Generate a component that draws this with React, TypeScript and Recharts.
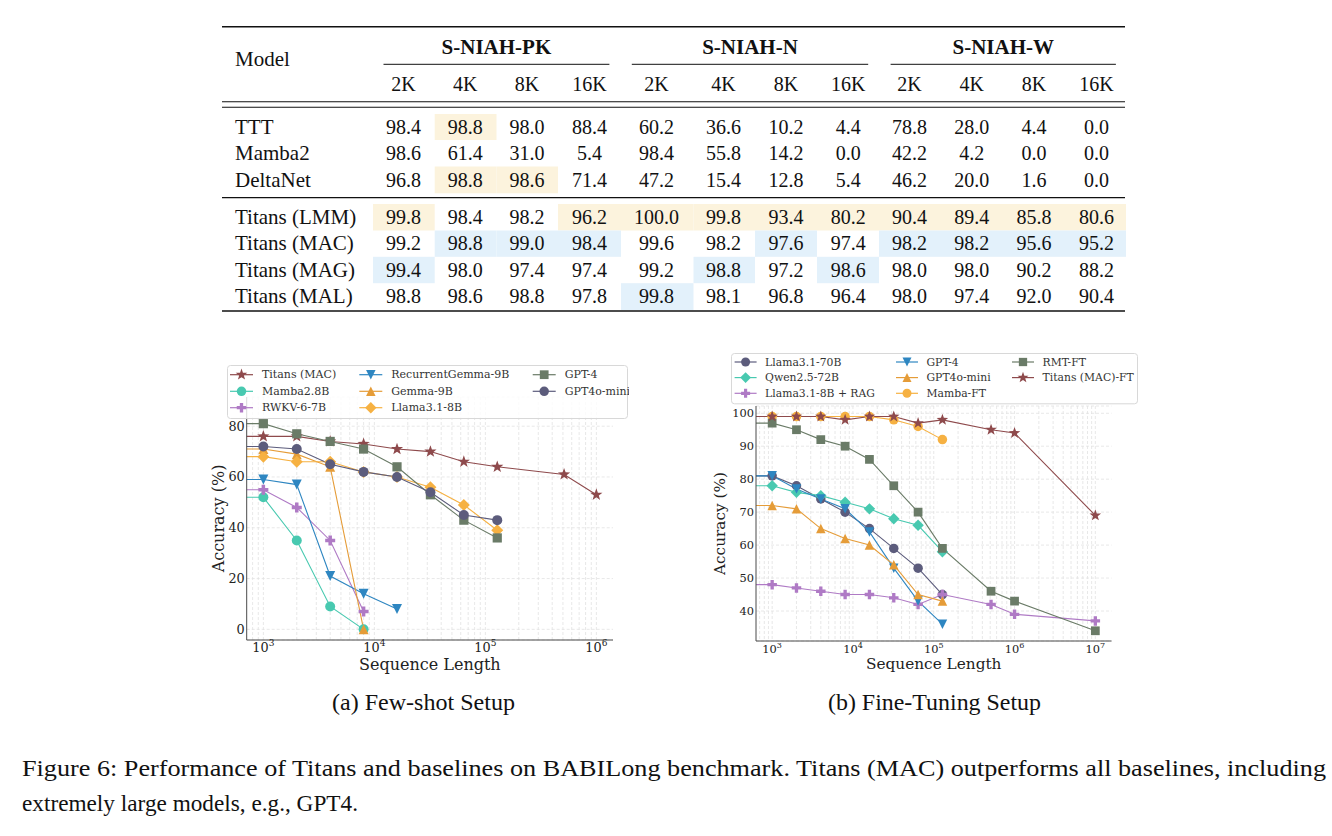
import React from "react";
import { LineChart, Line, XAxis, YAxis, CartesianGrid, Label } from "recharts";

const SERIF = "DejaVu Serif, Liberation Serif, serif";
const BOOK = "Liberation Serif, Times New Roman, serif";

// ---------- table data ----------
const taskNames = ["S-NIAH-PK", "S-NIAH-N", "S-NIAH-W"];
const contextLengths = ["2K", "4K", "8K", "16K"];
const tableModels = ["TTT", "Mamba2", "DeltaNet", "Titans (LMM)", "Titans (MAC)", "Titans (MAG)", "Titans (MAL)"];
const tttRow = [98.4, 98.8, 98.0, 88.4, 60.2, 36.6, 10.2, 4.4, 78.8, 28.0, 4.4, 0.0];
const mamba2Row = [98.6, 61.4, 31.0, 5.4, 98.4, 55.8, 14.2, 0.0, 42.2, 4.2, 0.0, 0.0];
const deltaNetRow = [96.8, 98.8, 98.6, 71.4, 47.2, 15.4, 12.8, 5.4, 46.2, 20.0, 1.6, 0.0];
const lmmRow = [99.8, 98.4, 98.2, 96.2, 100.0, 99.8, 93.4, 80.2, 90.4, 89.4, 85.8, 80.6];
const macRow = [99.2, 98.8, 99.0, 98.4, 99.6, 98.2, 97.6, 97.4, 98.2, 98.2, 95.6, 95.2];
const magRow = [99.4, 98.0, 97.4, 97.4, 99.2, 98.8, 97.2, 98.6, 98.0, 98.0, 90.2, 88.2];
const malRow = [98.8, 98.6, 98.8, 97.8, 99.8, 98.1, 96.8, 96.4, 98.0, 97.4, 92.0, 90.4];
const tableRows = [tttRow, mamba2Row, deltaNetRow, lmmRow, macRow, magRow, malRow];

// [row, column] of shaded cells
const yellowCells = [[0, 1], [2, 1], [2, 2], [3, 0], [3, 3], [3, 4], [3, 5], [3, 6], [3, 7], [3, 8], [3, 9], [3, 10], [3, 11]];
const blueCells = [[4, 1], [4, 2], [4, 3], [4, 6], [4, 8], [4, 9], [4, 10], [4, 11], [5, 0], [5, 5], [5, 7], [6, 4]];

// ---------- chart data ----------
const fewShotLengths = [1000, 2000, 4000, 8000, 16000, 32000, 64000, 128000, 512000, 1000000];
const titansMacFS = [76, 76, 74, 73, 71, 70, 66, 64, 61, 53];
const mamba28FS = [52, 35, 9, 0];
const rwkvFS = [55, 48, 35, 7];
const recGemmaFS = [59, 57, 21, 14, 8];
const gemmaFS = [71, 69, 64, 0];
const llama8FS = [68, 66, 66, 62, 60, 56, 49, 39];
const gpt4FS = [81, 77, 74, 71, 64, 53, 43, 36];
const gpt4oMiniFS = [72, 71, 65, 62, 60, 54, 45, 43];

const fineTuneLengths = [1000, 2000, 4000, 8000, 16000, 32000, 64000, 128000, 512000, 1000000, 10000000];
const llama70FT = [81, 78, 74, 70, 65, 59, 53, 45];
const qwenFT = [78, 76, 75, 73, 71, 68, 66, 58];
const ragFT = [48, 47, 46, 45, 45, 44, 42, 45, 42, 39, 37];
const gpt4FT = [81, 77, 74, 71, 64, 53, 43, 36];
const gpt4oMiniFT = [72, 71, 65, 62, 60, 54, 45, 43];
const mambaFT = [99, 99, 99, 99, 99, 98, 96, 92];
const rmtFT = [97, 95, 92, 90, 86, 78, 70, 59, 46, 43, 34];
const titansFT = [99, 99, 99, 98, 99, 99, 97, 98, 95, 94, 69];

type Shape = "star" | "circle" | "plus" | "triDown" | "triUp" | "diamond" | "square";
type Series = { name: string; color: string; shape: Shape; ys: number[] };

const fewShotSeries: Series[] = [
  { name: "Titans (MAC)", color: "#8e4a4c", shape: "star", ys: titansMacFS },
  { name: "Mamba2.8B", color: "#48c9b0", shape: "circle", ys: mamba28FS },
  { name: "RWKV-6-7B", color: "#af7ac5", shape: "plus", ys: rwkvFS },
  { name: "RecurrentGemma-9B", color: "#2e86c1", shape: "triDown", ys: recGemmaFS },
  { name: "Gemma-9B", color: "#e59c38", shape: "triUp", ys: gemmaFS },
  { name: "Llama3.1-8B", color: "#f6b142", shape: "diamond", ys: llama8FS },
  { name: "GPT-4", color: "#6a7b67", shape: "square", ys: gpt4FS },
  { name: "GPT4o-mini", color: "#5c5c7c", shape: "circle", ys: gpt4oMiniFS },
];

const fineTuneSeries: Series[] = [
  { name: "Llama3.1-70B", color: "#5c5c7c", shape: "circle", ys: llama70FT },
  { name: "Qwen2.5-72B", color: "#48c9b0", shape: "diamond", ys: qwenFT },
  { name: "Llama3.1-8B + RAG", color: "#af7ac5", shape: "plus", ys: ragFT },
  { name: "GPT-4", color: "#2e86c1", shape: "triDown", ys: gpt4FT },
  { name: "GPT4o-mini", color: "#e59c38", shape: "triUp", ys: gpt4oMiniFT },
  { name: "Mamba-FT", color: "#f6b142", shape: "circle", ys: mambaFT },
  { name: "RMT-FT", color: "#6a7b67", shape: "square", ys: rmtFT },
  { name: "Titans (MAC)-FT", color: "#8e4a4c", shape: "star", ys: titansFT },
];

// log-scale grid values (2..9 x 10^k)
function logGrid(lo: number, hi: number) {
  const out: number[] = [];
  for (let e = Math.floor(Math.log10(lo)); e <= Math.ceil(Math.log10(hi)); e++) {
    for (let m = 1; m <= 9; m++) {
      const v = m * Math.pow(10, e);
      if (v > lo && v < hi) out.push(v);
    }
  }
  return out;
}

function Marker({ shape, cx, cy, color, k }: { shape: Shape; cx: number; cy: number; color: string; k: number }) {
  const pts = (arr: number[][]) => arr.map(([dx, dy]) => `${cx + dx * k},${cy + dy * k}`).join(" ");
  switch (shape) {
    case "circle":
      return <circle cx={cx} cy={cy} r={5 * k} fill={color} />;
    case "square":
      return <rect x={cx - 4.6 * k} y={cy - 4.6 * k} width={9.2 * k} height={9.2 * k} fill={color} />;
    case "diamond":
      return <polygon points={pts([[0, -6], [6, 0], [0, 6], [-6, 0]])} fill={color} />;
    case "triUp":
      return <polygon points={pts([[0, -5], [5, 5], [-5, 5]])} fill={color} />;
    case "triDown":
      return <polygon points={pts([[0, 5], [5, -5], [-5, -5]])} fill={color} />;
    case "plus": {
      const a = 1.75, b = 5;
      return (
        <polygon
          points={pts([[-a, -b], [a, -b], [a, -a], [b, -a], [b, a], [a, a], [a, b], [-a, b], [-a, a], [-b, a], [-b, -a], [-a, -a]])}
          fill={color}
        />
      );
    }
    case "star": {
      const arr: number[][] = [];
      for (let i = 0; i < 10; i++) {
        const r = i % 2 === 0 ? 6.4 : 2.6;
        const ang = -Math.PI / 2 + (i * Math.PI) / 5;
        arr.push([r * Math.cos(ang), r * Math.sin(ang)]);
      }
      return <polygon points={pts(arr)} fill={color} />;
    }
  }
  return null;
}

// the plotted lines start at the left frame edge (x clipped), like the original
function toPoints(xs: number[], ys: number[]) {
  return [{ x: 1, y: ys[0], edge: true }, ...ys.map((y, i) => ({ x: xs[i], y, edge: false }))];
}

type ChartProps = {
  series: Series[];
  lengths: number[];
  width: number;
  height: number;
  margin: { top: number; right: number; bottom: number; left: number };
  yAxisWidth: number;
  xDomain: [number, number];
  yDomain: [number, number];
  xTicks: number[];
  yTicks: number[];
  tickFont: number;
  supFont: number;
  baseDy: number;
  supDy: number;
  titleFont: number;
  xTitleDy: number;
  yTitleX: number;
  k: number;
};

function PerfChart(p: ChartProps) {
  const plotLeft = p.margin.left + p.yAxisWidth;
  const plotRight = p.width - p.margin.right;
  const plotTop = p.margin.top;
  const plotBottom = p.height - p.margin.bottom - 30;
  const txt = { fontFamily: SERIF };
  return (
    <LineChart width={p.width} height={p.height} margin={p.margin}>
      <CartesianGrid
        stroke="#e2e2e2"
        strokeDasharray="3 2"
        strokeWidth={0.8}
        verticalValues={logGrid(p.xDomain[0], p.xDomain[1])}
      />
      <XAxis
        type="number"
        dataKey="x"
        scale="log"
        domain={p.xDomain}
        allowDataOverflow
        ticks={p.xTicks}
        interval={0}
        height={30}
        tickLine={false}
        tickSize={0}
        tickMargin={0}
        axisLine={{ stroke: "#4a4a4a", strokeWidth: 1 }}
        tick={(t: any) => (
          <text x={t.x} y={t.y + p.baseDy} textAnchor="middle" style={txt} fontSize={p.tickFont} fill="#222">
            <tspan>10</tspan>
            <tspan dy={p.supDy} fontSize={p.supFont}>
              {Math.round(Math.log10(t.payload.value))}
            </tspan>
          </text>
        )}
      >
        <Label
          content={() => (
            <text
              x={(plotLeft + plotRight) / 2}
              y={plotBottom + p.xTitleDy}
              textAnchor="middle"
              dominantBaseline="central"
              style={txt}
              fontSize={p.titleFont}
              fill="#222"
            >
              Sequence Length
            </text>
          )}
        />
      </XAxis>
      <YAxis
        type="number"
        dataKey="y"
        domain={p.yDomain}
        allowDataOverflow
        ticks={p.yTicks}
        interval={0}
        width={p.yAxisWidth}
        tickLine={false}
        tickSize={0}
        tickMargin={2}
        axisLine={{ stroke: "#4a4a4a", strokeWidth: 1 }}
        tick={(t: any) => (
          <text x={t.x} y={t.y} textAnchor="end" dominantBaseline="central" style={txt} fontSize={p.tickFont} fill="#222">
            {t.payload.value}
          </text>
        )}
      >
        <Label
          content={() => {
            const cy = (plotTop + plotBottom) / 2;
            return (
              <text
                x={p.yTitleX}
                y={cy}
                transform={`rotate(-90, ${p.yTitleX}, ${cy})`}
                textAnchor="middle"
                dominantBaseline="central"
                style={txt}
                fontSize={p.titleFont}
                fill="#222"
              >
                Accuracy (%)
              </text>
            );
          }}
        />
      </YAxis>
      {p.series.map((s) => (
        <Line
          key={s.name}
          name={s.name}
          data={toPoints(p.lengths, s.ys)}
          dataKey="y"
          stroke={s.color}
          strokeWidth={1.1}
          isAnimationActive={false}
          activeDot={false}
          dot={(d: any) =>
            d.payload?.edge || d.cx == null ? (
              <g key={`e-${d.index}`} />
            ) : (
              <Marker key={`m-${d.index}`} shape={s.shape} cx={d.cx} cy={d.cy} color={s.color} k={p.k} />
            )
          }
        />
      ))}
    </LineChart>
  );
}

function LegendBox(props: {
  series: Series[];
  left: number;
  top: number;
  width: number;
  height: number;
  rowY: number[];
  colX: number[];
  handleLen: number;
  textGap: number;
  fontSize: number;
  k: number;
}) {
  const { series, left, top, width, height, rowY, colX, handleLen, textGap, fontSize, k } = props;
  return (
    <svg style={{ position: "absolute", left, top }} width={width + 2} height={height + 2}>
      <rect x={0.5} y={0.5} width={width} height={height} rx={3} fill="rgba(255,255,255,0.8)" stroke="#d8d8d8" />
      {series.map((s, i) => {
        const col = Math.floor(i / 3);
        const row = i % 3;
        const x0 = colX[col];
        const y = rowY[row];
        return (
          <g key={s.name}>
            <line x1={x0} x2={x0 + handleLen} y1={y} y2={y} stroke={s.color} strokeWidth={1.2} />
            <Marker shape={s.shape} cx={x0 + handleLen / 2} cy={y} color={s.color} k={k} />
            <text x={x0 + textGap} y={y} dominantBaseline="central" style={{ fontFamily: SERIF }} fontSize={fontSize} fill="#333">
              {s.name}
            </text>
          </g>
        );
      })}
    </svg>
  );
}

// table layout
const colX = [403.5, 465.3, 527, 589.4, 656.5, 723.5, 786, 848.2, 909.4, 971.8, 1034.1, 1096.5];
const colEdges = [373, 434.7, 496.5, 558, 621, 693.5, 755, 817, 879, 941, 1003, 1065, 1126];
const rowY = [127, 153, 179.5, 217, 243, 269.5, 295.5];
const bandEdges: number[][] = [[114, 140], [140, 166.5], [166.5, 193.3], [204, 230.5], [230.5, 256.8], [256.8, 283.2], [283.2, 310]];
const groupSpans = [[383.5, 609.4], [631.8, 868.2], [890.6, 1115.9]];

function ResultsTable() {
  const cell = (r: number, c: number, fill: string) => (
    <rect
      key={`${fill}-${r}-${c}`}
      x={colEdges[c]}
      y={bandEdges[r][0]}
      width={colEdges[c + 1] - colEdges[c]}
      height={bandEdges[r][1] - bandEdges[r][0]}
      fill={fill}
    />
  );
  return (
    <g style={{ fontFamily: BOOK }} fill="#111">
      {yellowCells.map(([r, c]) => cell(r, c, "#fcf3dd"))}
      {blueCells.map(([r, c]) => cell(r, c, "#e3f1fb"))}
      <line x1={222} x2={1125} y1={26.7} y2={26.7} stroke="#111" strokeWidth={1.6} />
      <line x1={222} x2={1125} y1={101.7} y2={101.7} stroke="#111" strokeWidth={1.1} />
      <line x1={222} x2={1125} y1={107.3} y2={107.3} stroke="#111" strokeWidth={1.1} />
      <line x1={222} x2={1125} y1={197.7} y2={197.7} stroke="#111" strokeWidth={1.2} />
      <line x1={222} x2={1125} y1={311} y2={311} stroke="#111" strokeWidth={1.6} />
      {groupSpans.map(([a, b], g) => (
        <g key={taskNames[g]}>
          <line x1={a} x2={b} y1={64.3} y2={64.3} stroke="#111" strokeWidth={1} />
          <text x={(a + b) / 2} y={46.5} textAnchor="middle" dominantBaseline="central" fontSize={21} fontWeight="bold">
            {taskNames[g]}
          </text>
        </g>
      ))}
      <text x={235} y={59} dominantBaseline="central" fontSize={21}>
        Model
      </text>
      {colX.map((x, c) => (
        <text key={`h${c}`} x={x} y={83.5} textAnchor="middle" dominantBaseline="central" fontSize={20}>
          {contextLengths[c % 4]}
        </text>
      ))}
      {tableRows.map((vals, r) => (
        <g key={tableModels[r]}>
          <text x={235} y={rowY[r]} dominantBaseline="central" fontSize={21}>
            {tableModels[r]}
          </text>
          {vals.map((v, c) => (
            <text key={c} x={colX[c]} y={rowY[r]} textAnchor="middle" dominantBaseline="central" fontSize={20}>
              {v.toFixed(1)}
            </text>
          ))}
        </g>
      ))}
    </g>
  );
}

export default function App() {
  return (
    <div style={{ position: "absolute", left: 0, top: 0, width: 1332, height: 836, background: "#fff", overflow: "hidden" }}>
      <svg style={{ position: "absolute", left: 0, top: 0 }} width={1332} height={836}>
        <ResultsTable />
        <g style={{ fontFamily: BOOK }} fill="#111" fontSize={22.5}>
          <text x={423.5} y={709.5} textAnchor="middle" textLength={183} lengthAdjust="spacingAndGlyphs">
            (a) Few-shot Setup
          </text>
          <text x={934.5} y={709.5} textAnchor="middle" textLength={213} lengthAdjust="spacingAndGlyphs">
            (b) Fine-Tuning Setup
          </text>
          <text x={22} y={776} textLength={1304} lengthAdjust="spacingAndGlyphs">
            Figure 6: Performance of Titans and baselines on BABILong benchmark. Titans (MAC) outperforms all baselines, including
          </text>
          <text x={22} y={810.5} textLength={336} lengthAdjust="spacingAndGlyphs">
            extremely large models, e.g., GPT4.
          </text>
        </g>
      </svg>

      <div style={{ position: "absolute", left: 180, top: 340 }}>
        <PerfChart
          series={fewShotSeries}
          lengths={fewShotLengths}
          width={460}
          height={345}
          margin={{ top: 57, right: 27, bottom: 15, left: 0 }}
          yAxisWidth={66.7}
          xDomain={[707.9, 1412538]}
          yDomain={[-4.2, 91.5]}
          xTicks={[1e3, 1e4, 1e5, 1e6]}
          yTicks={[0, 20, 40, 60, 80]}
          tickFont={12.8}
          supFont={9}
          baseDy={11.7}
          supDy={-5.7}
          titleFont={16}
          xTitleDy={24}
          yTitleX={38.3}
          k={1}
        />
      </div>
      <LegendBox
        series={fewShotSeries}
        left={227}
        top={365}
        width={400}
        height={53}
        rowY={[9.7, 26.3, 42.7]}
        colX={[3, 132.3, 305.7]}
        handleLen={23}
        textGap={32}
        fontSize={11}
        k={0.95}
      />

      <div style={{ position: "absolute", left: 700, top: 340 }}>
        <PerfChart
          series={fineTuneSeries}
          lengths={fineTuneLengths}
          width={440}
          height={345}
          margin={{ top: 66, right: 28.5, bottom: 14, left: 0 }}
          yAxisWidth={56}
          xDomain={[631, 15848932]}
          yDomain={[30.9, 102.2]}
          xTicks={[1e3, 1e4, 1e5, 1e6, 1e7]}
          yTicks={[40, 50, 60, 70, 80, 90, 100]}
          tickFont={11.4}
          supFont={8}
          baseDy={12.3}
          supDy={-5}
          titleFont={15.3}
          xTitleDy={23}
          yTitleX={20}
          k={0.95}
        />
      </div>
      <LegendBox
        series={fineTuneSeries}
        left={730.7}
        top={352.7}
        width={406}
        height={50.3}
        rowY={[9, 24.6, 40.3]}
        colX={[3.6, 165, 281]}
        handleLen={22}
        textGap={30.5}
        fontSize={10.8}
        k={0.9}
      />
    </div>
  );
}
